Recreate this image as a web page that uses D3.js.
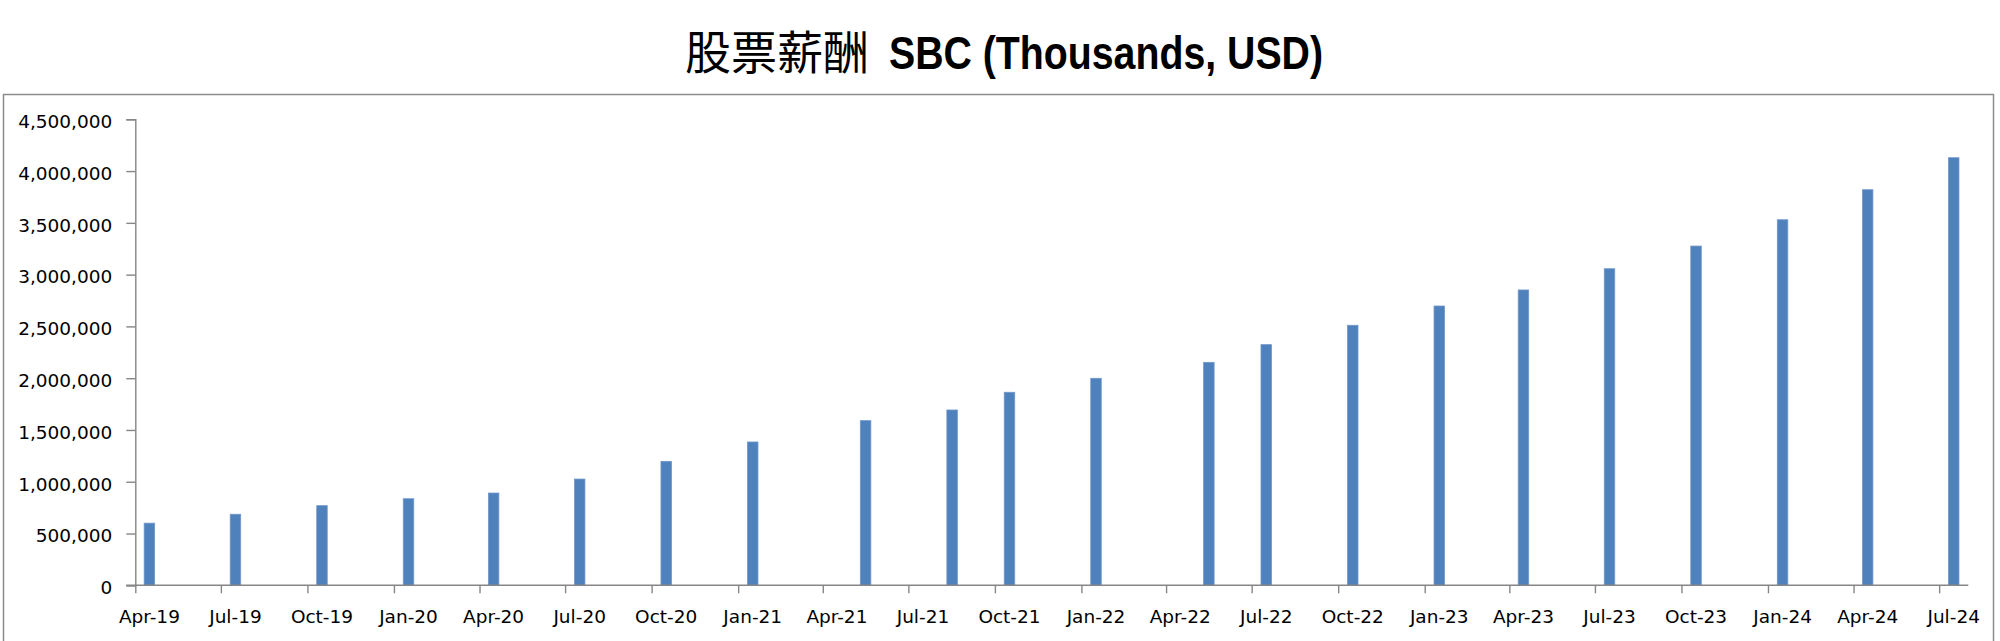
<!DOCTYPE html>
<html><head><meta charset="utf-8">
<script src="https://cdn.jsdelivr.net/npm/d3@7"></script>
<style>html,body{margin:0;padding:0;background:#fff;overflow:hidden;}</style>
</head><body>
<svg id="chart" width="2000" height="641"></svg>
<script>
// ---- data ----
const titleCn = "股票薪酬";
const titleEn = "SBC (Thousands, USD)";
const periods = ["2019-04","2019-07","2019-10","2020-01","2020-04","2020-07","2020-10","2021-01",
  "2021-05","2021-08","2021-10","2022-01","2022-05","2022-07","2022-10","2023-01",
  "2023-04","2023-07","2023-10","2024-01","2024-04","2024-07"];
const sbcValues = [600000,686000,769000,836000,891000,1026000,1197000,1384000,
  1590000,1693000,1864000,1999000,2153000,2324000,2511000,2697000,
  2852000,3057000,3276000,3530000,3820000,4129000];
const yTickValues = [0,500000,1000000,1500000,2000000,2500000,3000000,3500000,4000000,4500000];
const xTickMonths = ["2019-04","2019-07","2019-10","2020-01","2020-04","2020-07","2020-10","2021-01",
  "2021-04","2021-07","2021-10","2022-01","2022-04","2022-07","2022-10","2023-01",
  "2023-04","2023-07","2023-10","2024-01","2024-04","2024-07"];

// ---- layout ----
const svg = d3.select("#chart");
const parseM = d3.timeParse("%Y-%m");
const fmtTick = d3.timeFormat("%b-%y");
const plot = {left: 135.3, right: 1968.3, top: 119.3, bottom: 585.3};
const axisColor = "#868686";
const fontAxis = "'DejaVu Sans', Verdana, sans-serif";

const startDate = parseM(xTickMonths[0]);
const endDate = d3.timeMonth.offset(parseM(xTickMonths[xTickMonths.length-1]), 1);
const x = d3.scaleTime().domain([startDate, endDate]).range([plot.left, plot.right]);
const y = d3.scaleLinear().domain([0, 4500000]).range([plot.bottom, plot.top]);
const midMonth = d => { const a = parseM(d); const b = d3.timeMonth.offset(a, 1); return (x(a) + x(b)) / 2; };

// frame
svg.append("rect").attr("x", 3.5).attr("y", 94.5).attr("width", 1990).attr("height", 560)
  .attr("fill", "none").attr("stroke", "#8c8c8c").attr("stroke-width", 1.5);

// title
const title = svg.append("text").attr("y", 69).attr("fill", "#000");
title.append("tspan").attr("x", 685).attr("font-family", "'Noto Sans CJK SC', sans-serif")
  .attr("font-size", 46).attr("font-weight", 400).text(titleCn);
const en = title.append("tspan").attr("x", 889)
  .attr("font-family", "'Liberation Sans Narrow', 'Liberation Sans', Arial, sans-serif")
  .attr("font-size", 46).attr("font-weight", 700).text(titleEn);
en.attr("textLength", 434).attr("lengthAdjust", "spacingAndGlyphs");

// bars
const barW = 10.5;
svg.append("g").selectAll("rect").data(periods.map((p, i) => ({p, v: sbcValues[i]})))
  .join("rect")
  .attr("x", d => midMonth(d.p) - barW / 2)
  .attr("y", d => y(d.v))
  .attr("width", barW)
  .attr("height", d => y(0) - y(d.v))
  .attr("fill", "#4F81BD")
  .attr("stroke", "#7097c8").attr("stroke-width", 0.8);

// y axis
const yAxis = d3.axisLeft(y).tickValues(yTickValues).tickFormat(d3.format(",")).tickSize(9).tickPadding(14);
const gy = svg.append("g").attr("transform", `translate(${plot.left},0)`).call(yAxis);
gy.select(".domain").attr("stroke", axisColor).attr("stroke-width", 1.4);
gy.selectAll(".tick line").attr("stroke", axisColor).attr("stroke-width", 1.4);
gy.selectAll(".tick text").attr("font-family", fontAxis).attr("font-size", 18.5).attr("fill", "#000").attr("dy", "0.45em");

// x axis (ticks at quarter starts, labels centered in month)
const xAxis = d3.axisBottom(x).tickValues(xTickMonths.map(parseM)).tickSize(8).tickFormat("");
const gx = svg.append("g").attr("transform", `translate(0,${plot.bottom})`).call(xAxis);
gx.select(".domain").attr("stroke", axisColor).attr("stroke-width", 1.4).attr("d", `M${plot.left - 9},0H${plot.right}`);
gx.selectAll(".tick line").attr("stroke", axisColor).attr("stroke-width", 1.4);
svg.append("g").selectAll("text").data(xTickMonths).join("text")
  .attr("x", d => midMonth(d)).attr("y", 622.5)
  .attr("text-anchor", "middle")
  .attr("font-family", fontAxis).attr("font-size", 18.5).attr("fill", "#000")
  .text(d => fmtTick(parseM(d)));
</script>
</body></html>
